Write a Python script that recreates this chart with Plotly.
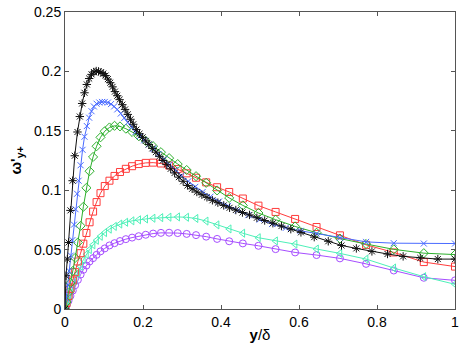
import plotly.graph_objects as go

# wall-normal positions (y/delta) and omega'_y+ profiles
x_black = [0, 0.0025, 0.006, 0.009, 0.014, 0.0195, 0.025, 0.032, 0.038, 0.044, 0.050, 0.056,
           0.062, 0.068, 0.074, 0.080, 0.086, 0.092, 0.098, 0.104, 0.110, 0.116, 0.122, 0.128,
           0.134, 0.140, 0.147, 0.154, 0.161, 0.168, 0.175, 0.183, 0.191, 0.199, 0.207, 0.215,
           0.224, 0.233, 0.242, 0.251, 0.261, 0.271, 0.281, 0.292, 0.303, 0.314, 0.326, 0.338,
           0.351, 0.364, 0.378, 0.392, 0.407, 0.422, 0.438, 0.455, 0.473, 0.492, 0.512, 0.533,
           0.555, 0.579, 0.605, 0.639, 0.675, 0.709, 0.747, 0.787, 0.827, 0.867, 0.911, 0.956, 1.0]
y_black = [0, 0.028, 0.042, 0.056, 0.083, 0.108, 0.129, 0.149, 0.162, 0.173, 0.182, 0.189,
           0.194, 0.1975, 0.1995, 0.2003, 0.2, 0.1992, 0.1982, 0.1965, 0.1935, 0.1905, 0.187, 0.183,
           0.1795, 0.1762, 0.172, 0.168, 0.1638, 0.1597, 0.1555, 0.151, 0.1475, 0.1445, 0.1415, 0.1385,
           0.1352, 0.132, 0.1285, 0.125, 0.1215, 0.118, 0.1145, 0.111, 0.1075, 0.104, 0.1012, 0.0985,
           0.0962, 0.094, 0.0915, 0.0895, 0.0872, 0.0852, 0.0833, 0.0812, 0.0792, 0.0768, 0.0745, 0.0722,
           0.0698, 0.0672, 0.0645, 0.0605, 0.057, 0.0535, 0.051, 0.0485, 0.0463, 0.0443, 0.043, 0.042, 0.042]

x_blue = [0, 0.003, 0.007, 0.011, 0.015, 0.019, 0.023, 0.027, 0.031, 0.035, 0.040, 0.045,
          0.050, 0.056, 0.062, 0.068, 0.074, 0.081, 0.088, 0.095, 0.102, 0.110, 0.118, 0.126,
          0.134, 0.143, 0.152, 0.161, 0.171, 0.181, 0.192, 0.203, 0.215, 0.227, 0.240, 0.254,
          0.268, 0.283, 0.299, 0.316, 0.334, 0.353, 0.373, 0.395, 0.418, 0.443, 0.470, 0.499,
          0.531, 0.566, 0.604, 0.645, 0.705, 0.772, 0.843, 0.920, 1.0]
y_blue = [0, 0.009, 0.020, 0.032, 0.045, 0.058, 0.071, 0.084, 0.097, 0.108, 0.121, 0.134,
          0.145, 0.154, 0.161, 0.1665, 0.1705, 0.1728, 0.1738, 0.1743, 0.1743, 0.1738, 0.1725, 0.1705,
          0.168, 0.1645, 0.1608, 0.157, 0.153, 0.149, 0.1455, 0.142, 0.1385, 0.1348, 0.1305, 0.126,
          0.1215, 0.117, 0.1122, 0.1075, 0.1028, 0.0985, 0.0945, 0.0905, 0.0868, 0.083, 0.079, 0.0752,
          0.0715, 0.0683, 0.0658, 0.0634, 0.060, 0.0565, 0.0554, 0.0551, 0.0551]

# common grid for the other four profiles
x_grid = [0, 0.004, 0.009, 0.014, 0.020, 0.026, 0.033, 0.040, 0.047, 0.055, 0.063, 0.072,
          0.081, 0.091, 0.102, 0.114, 0.127, 0.141, 0.156, 0.172, 0.189, 0.207, 0.226, 0.246,
          0.267, 0.289, 0.312, 0.336, 0.362, 0.390, 0.421, 0.456, 0.496, 0.540, 0.590, 0.645,
          0.705, 0.772, 0.843, 0.920, 1.0]
y_green = [0, 0.006, 0.014, 0.022, 0.032, 0.043, 0.056, 0.070, 0.086, 0.102, 0.116, 0.128,
           0.137, 0.1445, 0.1497, 0.1528, 0.1542, 0.1537, 0.1518, 0.149, 0.1455, 0.1415, 0.137, 0.132,
           0.127, 0.122, 0.117, 0.1118, 0.1062, 0.0998, 0.0935, 0.0872, 0.0808, 0.0752, 0.0695, 0.0642,
           0.0593, 0.0547, 0.0502, 0.047, 0.0458]
y_red = [0, 0.005, 0.011, 0.017, 0.024, 0.031, 0.040, 0.047, 0.055, 0.064, 0.073, 0.082,
         0.090, 0.0975, 0.1035, 0.108, 0.112, 0.1153, 0.118, 0.1202, 0.122, 0.123, 0.1232, 0.1225,
         0.1208, 0.1178, 0.1142, 0.1105, 0.1066, 0.1025, 0.0985, 0.093, 0.087, 0.0817, 0.0758, 0.069,
         0.062, 0.054, 0.0476, 0.0395, 0.0357]
y_cyan = [0, 0.003, 0.0065, 0.011, 0.018, 0.024, 0.030, 0.036, 0.0415, 0.046, 0.050, 0.054,
          0.0578, 0.0612, 0.0643, 0.0672, 0.0695, 0.0715, 0.073, 0.0742, 0.0751, 0.0758, 0.0764, 0.0769,
          0.0773, 0.0775, 0.0772, 0.0762, 0.074, 0.0708, 0.0674, 0.0638, 0.060, 0.0573, 0.0546, 0.0505,
          0.0468, 0.042, 0.0345, 0.0272, 0.0208]
y_purple = [0, 0.003, 0.0068, 0.011, 0.0155, 0.020, 0.0245, 0.029, 0.033, 0.0366, 0.040, 0.0428,
            0.0456, 0.0485, 0.051, 0.0535, 0.0554, 0.0572, 0.0588, 0.0601, 0.0613, 0.0625, 0.0635, 0.0641,
            0.0642, 0.0639, 0.0632, 0.0622, 0.0609, 0.059, 0.057, 0.0552, 0.0532, 0.0504, 0.0476, 0.0454,
            0.0426, 0.038, 0.0324, 0.0263, 0.0241]

# (x, y, colour, marker symbol, marker size) - drawn back to front
series = [
    (x_grid, y_purple, "#A64DFF", "circle-open", 7),
    (x_grid, y_cyan, "#4DF0B8", "triangle-left-open", 7),
    (x_grid, y_red, "#FF3B3B", "square-open", 7),
    (x_grid, y_green, "#2DB02D", "diamond-open", 7),
    (x_blue, y_blue, "#4A6BFF", "x-thin-open", 6),
    (x_black, y_black, "#111111", "asterisk-open", 7),
]

fig = go.Figure()
for xs, ys, col, sym, sz in series:
    fig.add_trace(go.Scatter(x=xs, y=ys, mode="lines+markers",
                             line=dict(color=col, width=1),
                             marker=dict(symbol=sym, size=sz, color=col,
                                         line=dict(color=col, width=1)),
                             showlegend=False))

font_family = "Liberation Sans, Arial"
axis_style = dict(showline=True, linecolor="#555555", linewidth=1, mirror="ticks",
                  ticks="inside", ticklen=4, tickcolor="#555555", showgrid=False,
                  zeroline=False, ticklabeloverflow="allow",
                  tickfont=dict(family=font_family, size=14, color="black"))

fig.update_xaxes(range=[0, 1], tickvals=[0, 0.2, 0.4, 0.6, 0.8, 1],
                 ticktext=["0", "0.2", "0.4", "0.6", "0.8", "1"],
                 title=dict(text="<b>y</b>/δ", standoff=0,
                            font=dict(family=font_family, size=15, color="black")),
                 **axis_style)
fig.update_yaxes(range=[0, 0.25], tickvals=[0, 0.05, 0.1, 0.15, 0.2, 0.25],
                 ticktext=["0", "0.05", "0.1", "0.15", "0.2", "0.25"],
                 title=dict(text="<b>ω'<sub>y+</sub></b>", standoff=8,
                            font=dict(family=font_family, size=15, color="black")),
                 **axis_style)

fig.update_layout(width=463, height=349, paper_bgcolor="white", plot_bgcolor="white",
                  margin=dict(l=65, r=4, t=8, b=40))

# page body margin would push the figure off the 463x349 window
fig.write_html("out.html", config={"displayModeBar": False},
               post_script="document.body.style.margin='0';")
